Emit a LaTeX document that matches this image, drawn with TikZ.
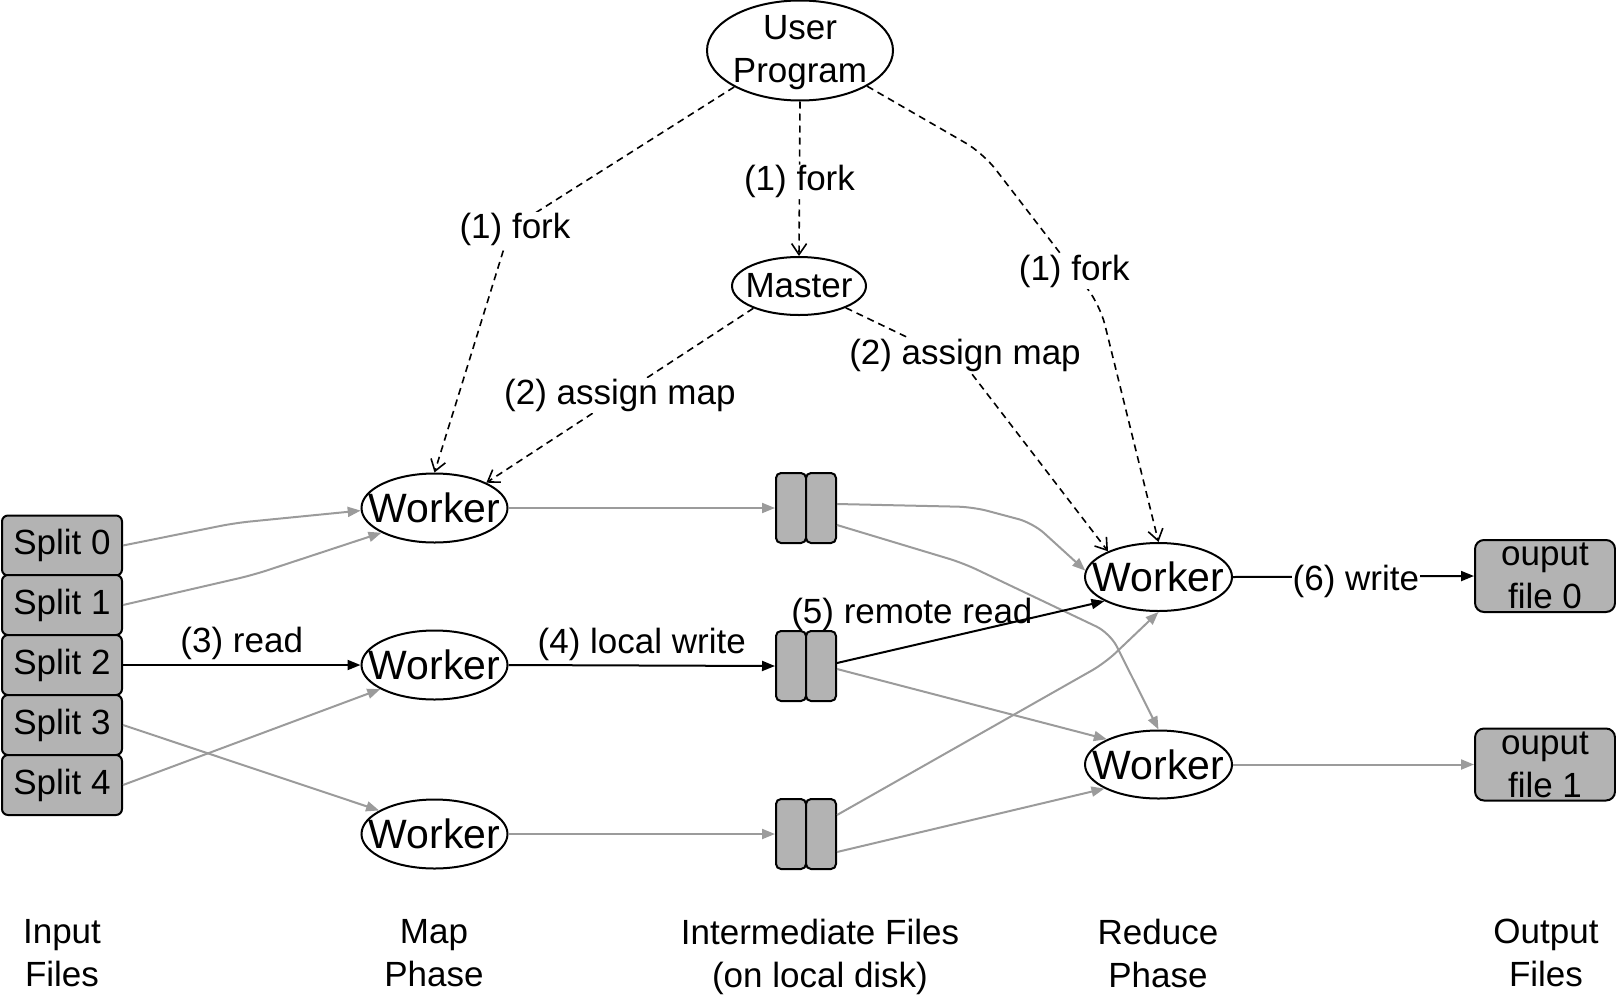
\documentclass[tikz,border=0pt]{standalone}
\usepackage{fontspec}
\setmainfont{Liberation Sans}
\usetikzlibrary{arrows.meta,shapes.geometric}
\definecolor{boxgray}{RGB}{179,179,179}
\definecolor{linegray}{RGB}{155,155,155}
\newcommand{\lblfont}{\fontsize{35}{43}\selectfont}
\newcommand{\wkfont}{\fontsize{41}{49}\selectfont}
\begin{document}
\begin{tikzpicture}[x=1pt,y=-1pt,
  ell/.style={draw, ellipse, line width=2pt, inner sep=0pt},
  worker/.style={ell, minimum width=146, minimum height=69, label={[font=\wkfont, inner sep=0pt]center:Worker}},
  split/.style={draw, fill=boxgray, rounded corners=6pt, line width=2pt, minimum width=120, minimum height=60, inner sep=0pt, font=\lblfont},
  ifile/.style={draw, fill=boxgray, rounded corners=5pt, line width=2pt, minimum width=30, minimum height=70, inner sep=0pt},
  outbox/.style={draw, fill=boxgray, rounded corners=9pt, line width=2pt, minimum width=140, minimum height=72, inner sep=0pt, font=\lblfont, align=center},
  gline/.style={draw=linegray, line width=2pt, rounded corners=15pt, -{Triangle[length=13pt,width=10pt]}},
  bline/.style={draw=black, line width=2pt, -{Triangle[length=13pt,width=10pt]}},
  dline/.style={draw=black, line width=1.6pt, dash pattern=on 7pt off 5pt, rounded corners=20pt, -{Straight Barb[length=11pt,width=15pt,line width=1.6pt]}},
  lbl/.style={font=\lblfont, fill=white, inner sep=1pt},
  lbltxt/.style={font=\lblfont, inner sep=0pt},
  phase/.style={font=\lblfont, align=center, anchor=north, inner sep=0pt},
]
\useasboundingbox (0,0) rectangle (1616,996);

% top
\node[ell, minimum width=186, minimum height=100] (up) at (800,50.5) {};
\node[lbltxt, align=center] (uptext) at (800,53) {User\\Program};
\node[ell, minimum width=134, minimum height=58, label={[font=\lblfont, inner sep=0pt]center:Master}] (ms) at (799,286) {};

% splits
\node[split] (s0) at (62,545.5) {Split 0};
\node[split] (s1) at (62,605) {Split 1};
\node[split] (s2) at (62,665) {Split 2};
\node[split] (s3) at (62,725) {Split 3};
\node[split] (s4) at (62,785) {Split 4};

% map workers
\node[worker] (m1) at (434.5,508) {};
\node[worker] (m2) at (434.5,665) {};
\node[worker] (m3) at (434.5,834) {};

% intermediate files
\node[ifile] (i1a) at (791,508) {};
\node[ifile] (i1b) at (821,508) {};
\node[ifile] (i2a) at (791,666) {};
\node[ifile] (i2b) at (821,666) {};
\node[ifile] (i3a) at (791,834) {};
\node[ifile] (i3b) at (821,834) {};

% reduce workers
\node[worker, minimum width=147, minimum height=68] (r1) at (1158.5,577) {};
\node[worker, minimum width=147, minimum height=68] (r2) at (1158.5,764.5) {};

% outputs
\node[outbox] (o0) at (1545,576) {ouput\\file 0};
\node[outbox] (o1) at (1545,764.5) {ouput\\file 1};

% splits -> map
\draw[gline] (s0.east) -- (235,523) -- (m1.182);
\draw[gline] (s1.east) -- (253,575) -- (m1.205);
\draw[bline] (s2.east) -- node[lbltxt, above, inner sep=4pt] {(3) read} (m2.west);
\draw[gline] (s4.east) -- (m2.204);
\draw[gline] (s3.east) -- (m3.157);

% map -> intermediate
\draw[gline] (m1.east) -- (i1a.west);
\draw[bline] (m2.east) -- node[lbltxt, above, inner sep=4pt] {(4) local write} (i2a.west);
\draw[gline] (m3.east) -- (i3a.west);

% intermediate -> reduce
\draw[gline] ([yshift=4pt]i1b.east) -- (973,507) -- (1033,523) -- (r1.175);
\draw[gline] ([yshift=-17pt]i1b.east) -- (963,563) -- (1110,633) -- (r2.north);
\draw[gline] ([yshift=-3pt]i2b.east) -- (r2.154);
\draw[gline] ([yshift=19pt]i3b.east) -- (1105,663) -- (r1.south);
\draw[gline] ([yshift=-18pt]i3b.east) -- (r2.204);
\draw[bline] ([yshift=3pt]i2b.east) -- node[lbltxt, pos=0.28, yshift=31pt] {(5) remote read} (r1.204);

% reduce -> output
\draw[bline] (r1.east) -- node[lbl, pos=0.51, yshift=-5pt] {(6) write} (o0.west);
\draw[gline] (r2.east) -- (o1.west);

% dashed control arrows
\draw[dline] (up.south) -- node[lbl, pos=0.52] {(1) fork} (ms.north);
\draw[dline, rounded corners=0pt] (up.209) -- (510,229) node[lbl, xshift=5pt] {(1) fork} -- (m1.north);
\draw[dline] (up.332) -- (983,153) -- node[lbl, pos=0.78] {(1) fork} (1100,305) -- (r1.north);
\draw[dline] (ms.206) -- node[lbl] {(2) assign map} (m1.26);
\draw[dline, rounded corners=0pt] (ms.335) -- (965,365) node[lbl, yshift=10pt] {(2) assign map} -- (r1.153);

% phase labels
\node[phase] (p1) at (62,919) {Input\\Files};
\node[phase] (p2) at (434,919) {Map\\Phase};
\node[phase] (p3) at (820,919) {Intermediate Files\\(on local disk)};
\node[phase] (p4) at (1158,919) {Reduce\\Phase};
\node[phase] (p5) at (1546,919) {Output\\Files};
\end{tikzpicture}
\end{document}
